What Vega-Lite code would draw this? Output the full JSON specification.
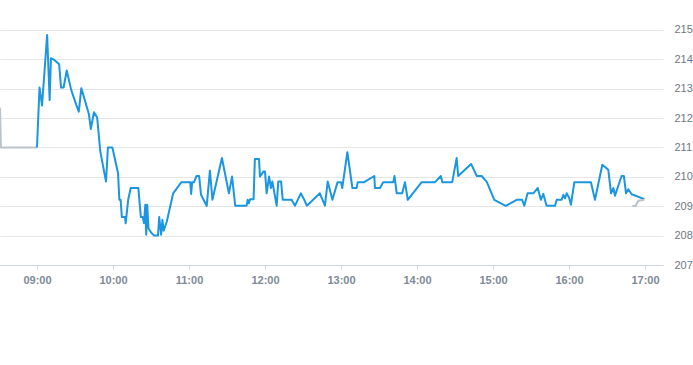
{
  "width": 663,
  "height": 265,
  "padding": 0,
  "config": {"view": {"stroke": null}, "font": "Liberation Sans"},
  "data": {
    "values": [
      {"min": -29.17, "p": 212.35, "s": "pre"},
      {"min": -28.5, "p": 211.0, "s": "pre"},
      {"min": 0, "p": 211.0, "s": "pre"},
      {"min": 0, "p": 211.0, "s": "reg"},
      {"min": 2, "p": 213.04, "s": "reg"},
      {"min": 4, "p": 212.43, "s": "reg"},
      {"min": 8, "p": 214.83, "s": "reg"},
      {"min": 10, "p": 212.62, "s": "reg"},
      {"min": 11, "p": 214.04, "s": "reg"},
      {"min": 13, "p": 214.0, "s": "reg"},
      {"min": 17.5, "p": 213.83, "s": "reg"},
      {"min": 19, "p": 213.04, "s": "reg"},
      {"min": 21, "p": 213.04, "s": "reg"},
      {"min": 23.5, "p": 213.62, "s": "reg"},
      {"min": 27, "p": 212.96, "s": "reg"},
      {"min": 31, "p": 212.45, "s": "reg"},
      {"min": 33, "p": 212.22, "s": "reg"},
      {"min": 35, "p": 213.02, "s": "reg"},
      {"min": 41, "p": 212.13, "s": "reg"},
      {"min": 42.5, "p": 211.63, "s": "reg"},
      {"min": 45, "p": 212.2, "s": "reg"},
      {"min": 47.5, "p": 212.02, "s": "reg"},
      {"min": 50, "p": 210.86, "s": "reg"},
      {"min": 54.5, "p": 209.84, "s": "reg"},
      {"min": 56, "p": 211.0, "s": "reg"},
      {"min": 59.5, "p": 211.0, "s": "reg"},
      {"min": 64, "p": 210.12, "s": "reg"},
      {"min": 65, "p": 209.22, "s": "reg"},
      {"min": 66, "p": 209.22, "s": "reg"},
      {"min": 67, "p": 208.63, "s": "reg"},
      {"min": 69.5, "p": 208.63, "s": "reg"},
      {"min": 70, "p": 208.42, "s": "reg"},
      {"min": 72, "p": 209.22, "s": "reg"},
      {"min": 74, "p": 209.62, "s": "reg"},
      {"min": 80, "p": 209.62, "s": "reg"},
      {"min": 82, "p": 208.63, "s": "reg"},
      {"min": 83.5, "p": 208.63, "s": "reg"},
      {"min": 84.5, "p": 208.42, "s": "reg"},
      {"min": 85.5, "p": 209.05, "s": "reg"},
      {"min": 86.25, "p": 208.03, "s": "reg"},
      {"min": 87, "p": 209.05, "s": "reg"},
      {"min": 88, "p": 208.25, "s": "reg"},
      {"min": 90.5, "p": 208.08, "s": "reg"},
      {"min": 92.5, "p": 208.0, "s": "reg"},
      {"min": 95.5, "p": 208.0, "s": "reg"},
      {"min": 96.5, "p": 208.63, "s": "reg"},
      {"min": 98, "p": 208.03, "s": "reg"},
      {"min": 99, "p": 208.54, "s": "reg"},
      {"min": 100, "p": 208.17, "s": "reg"},
      {"min": 102.5, "p": 208.48, "s": "reg"},
      {"min": 107.5, "p": 209.44, "s": "reg"},
      {"min": 114, "p": 209.82, "s": "reg"},
      {"min": 121, "p": 209.82, "s": "reg"},
      {"min": 121.7, "p": 209.42, "s": "reg"},
      {"min": 122.5, "p": 209.82, "s": "reg"},
      {"min": 124, "p": 209.82, "s": "reg"},
      {"min": 126, "p": 210.03, "s": "reg"},
      {"min": 128, "p": 210.03, "s": "reg"},
      {"min": 129.5, "p": 209.39, "s": "reg"},
      {"min": 134, "p": 209.01, "s": "reg"},
      {"min": 136.5, "p": 210.21, "s": "reg"},
      {"min": 138.5, "p": 209.22, "s": "reg"},
      {"min": 146, "p": 210.64, "s": "reg"},
      {"min": 151.5, "p": 209.44, "s": "reg"},
      {"min": 154, "p": 210.01, "s": "reg"},
      {"min": 156.5, "p": 209.02, "s": "reg"},
      {"min": 165.5, "p": 209.02, "s": "reg"},
      {"min": 166.3, "p": 209.22, "s": "reg"},
      {"min": 167.3, "p": 209.1, "s": "reg"},
      {"min": 168.2, "p": 209.24, "s": "reg"},
      {"min": 171, "p": 209.24, "s": "reg"},
      {"min": 172, "p": 210.61, "s": "reg"},
      {"min": 175.3, "p": 210.61, "s": "reg"},
      {"min": 176, "p": 210.01, "s": "reg"},
      {"min": 178.7, "p": 210.18, "s": "reg"},
      {"min": 180, "p": 210.18, "s": "reg"},
      {"min": 181.3, "p": 209.44, "s": "reg"},
      {"min": 183.2, "p": 210.01, "s": "reg"},
      {"min": 184.7, "p": 209.62, "s": "reg"},
      {"min": 185.8, "p": 209.84, "s": "reg"},
      {"min": 189.2, "p": 209.02, "s": "reg"},
      {"min": 190.5, "p": 209.84, "s": "reg"},
      {"min": 192.7, "p": 209.84, "s": "reg"},
      {"min": 194, "p": 209.22, "s": "reg"},
      {"min": 201, "p": 209.22, "s": "reg"},
      {"min": 203.7, "p": 209.02, "s": "reg"},
      {"min": 208.3, "p": 209.44, "s": "reg"},
      {"min": 211, "p": 209.22, "s": "reg"},
      {"min": 213, "p": 209.02, "s": "reg"},
      {"min": 218, "p": 209.22, "s": "reg"},
      {"min": 223.3, "p": 209.44, "s": "reg"},
      {"min": 227.3, "p": 209.02, "s": "reg"},
      {"min": 229.5, "p": 209.84, "s": "reg"},
      {"min": 233.2, "p": 209.22, "s": "reg"},
      {"min": 237.3, "p": 209.82, "s": "reg"},
      {"min": 240, "p": 209.82, "s": "reg"},
      {"min": 241, "p": 209.62, "s": "reg"},
      {"min": 245, "p": 210.84, "s": "reg"},
      {"min": 249, "p": 209.62, "s": "reg"},
      {"min": 252.3, "p": 209.62, "s": "reg"},
      {"min": 253.2, "p": 209.82, "s": "reg"},
      {"min": 258.3, "p": 209.82, "s": "reg"},
      {"min": 266.3, "p": 210.03, "s": "reg"},
      {"min": 266.8, "p": 209.62, "s": "reg"},
      {"min": 270.8, "p": 209.62, "s": "reg"},
      {"min": 273.3, "p": 209.82, "s": "reg"},
      {"min": 281.3, "p": 209.82, "s": "reg"},
      {"min": 282.2, "p": 210.03, "s": "reg"},
      {"min": 284, "p": 209.44, "s": "reg"},
      {"min": 288.3, "p": 209.44, "s": "reg"},
      {"min": 290.5, "p": 209.82, "s": "reg"},
      {"min": 292.7, "p": 209.22, "s": "reg"},
      {"min": 303.7, "p": 209.82, "s": "reg"},
      {"min": 314.2, "p": 209.82, "s": "reg"},
      {"min": 318.8, "p": 210.03, "s": "reg"},
      {"min": 320, "p": 209.82, "s": "reg"},
      {"min": 327.8, "p": 209.82, "s": "reg"},
      {"min": 331.3, "p": 210.64, "s": "reg"},
      {"min": 332.5, "p": 210.03, "s": "reg"},
      {"min": 342.7, "p": 210.44, "s": "reg"},
      {"min": 347.2, "p": 210.03, "s": "reg"},
      {"min": 351, "p": 210.03, "s": "reg"},
      {"min": 355, "p": 209.84, "s": "reg"},
      {"min": 361, "p": 209.22, "s": "reg"},
      {"min": 370, "p": 209.01, "s": "reg"},
      {"min": 378.7, "p": 209.22, "s": "reg"},
      {"min": 383, "p": 209.22, "s": "reg"},
      {"min": 384.7, "p": 209.02, "s": "reg"},
      {"min": 387.3, "p": 209.44, "s": "reg"},
      {"min": 391.8, "p": 209.44, "s": "reg"},
      {"min": 395.3, "p": 209.62, "s": "reg"},
      {"min": 397.8, "p": 209.22, "s": "reg"},
      {"min": 399.7, "p": 209.42, "s": "reg"},
      {"min": 402.3, "p": 209.02, "s": "reg"},
      {"min": 409, "p": 209.02, "s": "reg"},
      {"min": 410.3, "p": 209.22, "s": "reg"},
      {"min": 414.2, "p": 209.22, "s": "reg"},
      {"min": 415.5, "p": 209.39, "s": "reg"},
      {"min": 416.8, "p": 209.27, "s": "reg"},
      {"min": 418.2, "p": 209.44, "s": "reg"},
      {"min": 420.2, "p": 209.27, "s": "reg"},
      {"min": 421.5, "p": 209.05, "s": "reg"},
      {"min": 424.2, "p": 209.82, "s": "reg"},
      {"min": 437.3, "p": 209.82, "s": "reg"},
      {"min": 440.5, "p": 209.22, "s": "reg"},
      {"min": 446.3, "p": 210.41, "s": "reg"},
      {"min": 451, "p": 210.24, "s": "reg"},
      {"min": 453.2, "p": 209.44, "s": "reg"},
      {"min": 455, "p": 209.62, "s": "reg"},
      {"min": 456.3, "p": 209.36, "s": "reg"},
      {"min": 461.5, "p": 210.03, "s": "reg"},
      {"min": 463.3, "p": 210.03, "s": "reg"},
      {"min": 465, "p": 209.44, "s": "reg"},
      {"min": 466.8, "p": 209.58, "s": "reg"},
      {"min": 469.5, "p": 209.41, "s": "reg"},
      {"min": 479.5, "p": 209.24, "s": "reg"},
      {"min": 470, "p": 209.01, "s": "post"},
      {"min": 472.5, "p": 209.01, "s": "post"},
      {"min": 474.7, "p": 209.19, "s": "post"},
      {"min": 479.5, "p": 209.22, "s": "post"}
    ]
  },
  "mark": {"type": "line", "strokeWidth": 2, "strokeJoin": "round", "clip": true},
  "encoding": {
    "x": {
      "field": "min",
      "type": "quantitative",
      "scale": {"domain": [-29.2, 494.2], "zero": false, "nice": false},
      "axis": {
        "title": null,
        "values": [0, 60, 120, 180, 240, 300, 360, 420, 480],
        "labelExpr": "(datum.value < 60 ? '0' : '') + (9 + floor(datum.value / 60)) + ':00'",
        "grid": false,
        "domainColor": "#ccd6eb",
        "tickColor": "#ccd6eb",
        "tickSize": 4,
        "labelColor": "#808a96",
        "labelFontWeight": "bold",
        "labelFontSize": 11,
        "labelPadding": 5
      }
    },
    "y": {
      "field": "p",
      "type": "quantitative",
      "scale": {"domain": [207, 216.02], "zero": false, "nice": false},
      "axis": {
        "title": null,
        "orient": "right",
        "values": [207, 208, 209, 210, 211, 212, 213, 214, 215],
        "format": "d",
        "grid": true,
        "gridColor": "#e6e6e6",
        "domain": false,
        "ticks": false,
        "labelPadding": 11,
        "labelColor": "#6f7882",
        "labelFontSize": 11
      }
    },
    "color": {
      "field": "s",
      "type": "nominal",
      "scale": {"domain": ["pre", "reg", "post"], "range": ["#b9c3ce", "#1a96e2", "#b9c3ce"]},
      "legend": null
    }
  }
}
